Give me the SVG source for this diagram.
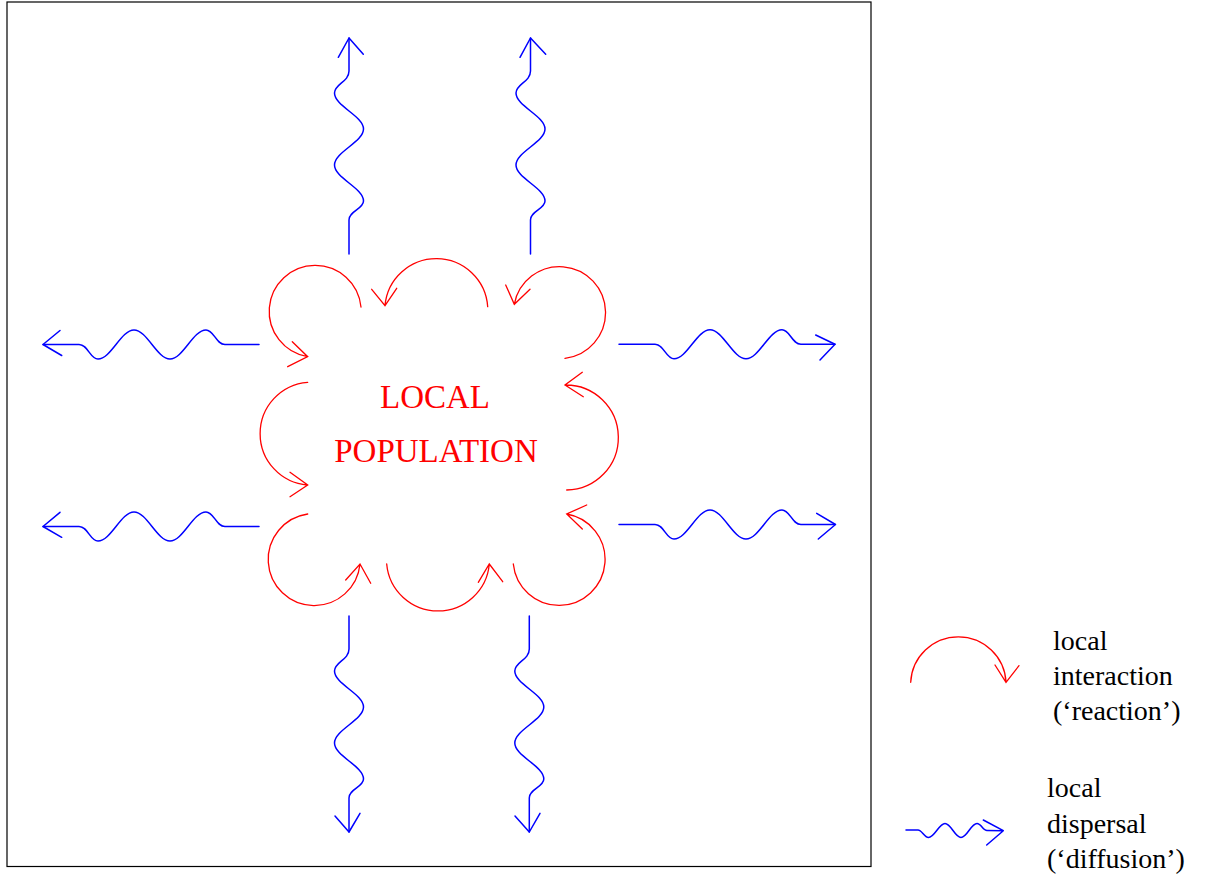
<svg xmlns="http://www.w3.org/2000/svg" width="1209" height="877" viewBox="0 0 1209 877">
<style>
.frame{fill:none;stroke:#000;stroke-width:1.2}
.red{fill:none;stroke:#ff0000;stroke-width:1.3;stroke-linecap:round}
.blue{fill:none;stroke:#0000ff;stroke-width:1.5;stroke-linecap:round;stroke-linejoin:round}
.title{font-family:"Liberation Serif","Times New Roman",serif;font-size:33px;fill:#ff0000;text-anchor:middle}
.leg{font-family:"Liberation Serif","Times New Roman",serif;font-size:28px;fill:#000}
</style>
<defs>
<path id="hwave" d="M0,0 L36,0 C45,0 47,14.5 55,14.5 C68,14.5 78,-14.5 91,-14.5 C104,-14.5 114,14.5 127,14.5 C140,14.5 150,-14.5 163,-14.5 C171,-14.5 173,0 182,0 L216,0"/>
<path id="vwave" d="M0,0 L0,33 C0,44 -14.5,46 -14.5,55 C-14.5,68 14.5,78 14.5,91 C14.5,104 -14.5,114 -14.5,127 C-14.5,140 14.5,150 14.5,163 C14.5,171 0,173 0,182 L0,216"/>
</defs>
<rect class="frame" x="7" y="2" width="864" height="864.5"/>
<g id="population">
<text class="title" x="435" y="408">LOCAL</text>
<text class="title" x="436" y="462">POPULATION</text>
</g>
<g id="interactions">
<path class="red" d="M361,307 A46,46 0 1 0 307.7,356.7 M292.3,341.7 L307.7,356.7 L287.7,366.7"/>
<path class="red" d="M487.7,306.7 A51.5,51.5 0 0 0 385,305.7 M371.7,289.3 L385,305.7 L396.7,288.3"/>
<path class="red" d="M514.3,304.3 A46,46 0 1 1 565,358.3 M505.7,285 L514.3,304.3 L530,289.3"/>
<path class="red" d="M307.7,382.3 A51.5,51.5 0 0 0 307.7,485 M290,472.3 L307.7,485 L290,496.7"/>
<path class="red" d="M565,385 A52.5,52.5 0 0 1 566.7,490 M582.3,372.3 L565,385 L583.3,396.7"/>
<path class="red" d="M307.7,514 A46,46 0 1 0 360,564 M345.7,580 L360,564 L370.7,583.3"/>
<path class="red" d="M386.7,564 A51.5,51.5 0 0 0 489.3,564 M478.3,582.3 L489.3,564 L502.7,581.7"/>
<path class="red" d="M513.3,564 A46,46 0 1 0 566.7,514 M586.7,505 L566.7,514 L582.3,529"/>
</g>
<g id="dispersal">
<use href="#hwave" class="blue" transform="translate(43,344.5)"/>
<path class="blue" d="M60,330.5 L43,344.5 L61.7,355.5"/>
<use href="#hwave" class="blue" transform="translate(619,344.3)"/>
<path class="blue" d="M815.7,335 L835,344.3 L820,360"/>
<use href="#hwave" class="blue" transform="translate(43,526.5)"/>
<path class="blue" d="M60,512.3 L43,526.5 L61.7,537.3"/>
<use href="#hwave" class="blue" transform="translate(619,524.5)"/>
<path class="blue" d="M816.7,513.3 L835.5,524.5 L818.3,539"/>
<use href="#vwave" class="blue" transform="translate(349,38)"/>
<path class="blue" d="M338.3,57.3 L349,38 L363.3,54.3"/>
<use href="#vwave" class="blue" transform="translate(530.5,38)"/>
<path class="blue" d="M520,57.3 L530.5,38 L545.7,54.3"/>
<use href="#vwave" class="blue" transform="translate(349,616)"/>
<path class="blue" d="M335,816 L349,832 L360,813.3"/>
<use href="#vwave" class="blue" transform="translate(529.3,616)"/>
<path class="blue" d="M515,816 L529.3,832 L540,813.3"/>
</g>
<g id="legend-reaction">
<path class="red" d="M910.7,682.3 A47.7,47.7 0 0 1 1006,682.3 M995,665 L1006,682.3 L1019,665.7"/>
<text class="leg" x="1053" y="650">local</text>
<text class="leg" x="1053" y="685">interaction</text>
<text class="leg" x="1053" y="720">(‘reaction’)</text>
</g>
<g id="legend-diffusion">
<path class="blue" d="M906,830 L918,830 C922,830 924,837.5 928.5,837.5 C934.5,837.5 939,823.5 945,823.5 C951,823.5 955,837.5 961,837.5 C967,837.5 971,823.5 977,823.5 C981,823.5 983,830.5 987,830.5 L1003.3,830.7 M983.3,820 L1003.3,830.7 L986.7,845"/>
<text class="leg" x="1047" y="797">local</text>
<text class="leg" x="1047" y="833">dispersal</text>
<text class="leg" x="1047" y="868">(‘diffusion’)</text>
</g>
</svg>
